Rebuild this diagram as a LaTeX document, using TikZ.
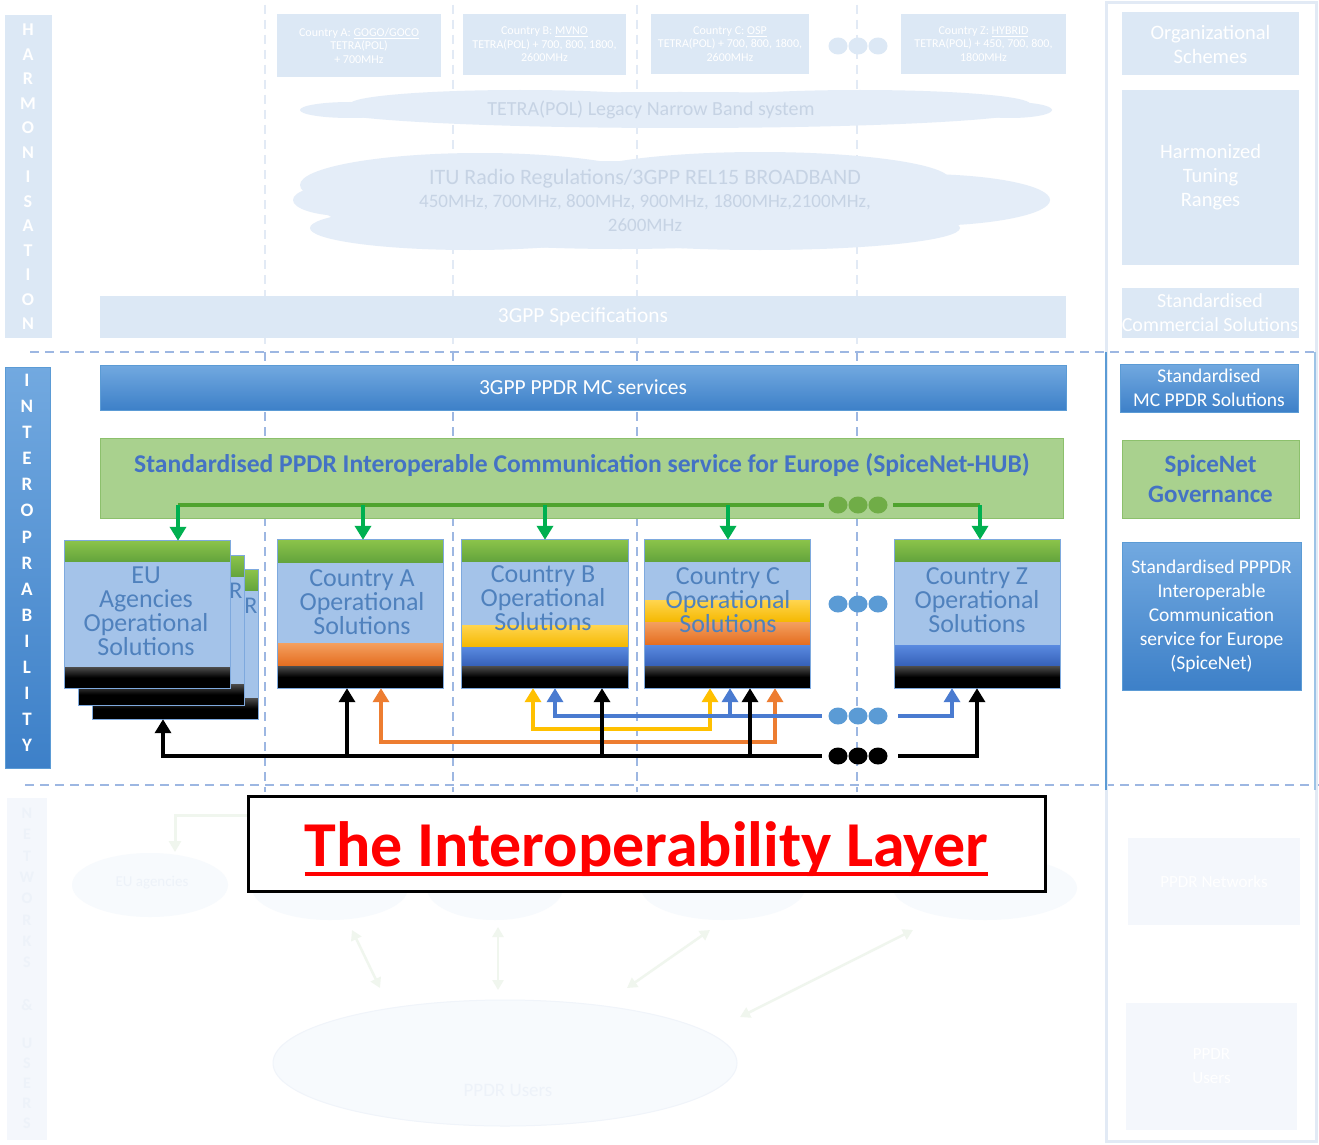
\documentclass[tikz,border=0pt]{standalone}
\usepackage{fontspec}
\setmainfont{Carlito}
\usetikzlibrary{arrows.meta,shapes.geometric}
\definecolor{mcTop}{HTML}{72A9E0}
\definecolor{mcBot}{HTML}{3D80C8}
\definecolor{mcEdge}{HTML}{5B9BD5}
\definecolor{hubFill}{HTML}{A9D18E}
\definecolor{hubEdge}{HTML}{8CC06C}
\definecolor{hubText}{HTML}{4472C4}
\definecolor{hubLine}{HTML}{4FA32E}
\definecolor{dotGreen}{HTML}{70AD47}
\definecolor{arrGreen}{HTML}{00B050}
\definecolor{hdrTop}{HTML}{8BC34A}
\definecolor{hdrBot}{HTML}{62A33C}
\definecolor{bodyBlue}{HTML}{A4C3E9}
\definecolor{bodyEdge}{HTML}{7EA9DE}
\definecolor{stackText}{HTML}{4F81BD}
\definecolor{yelTop}{HTML}{FFD54F}
\definecolor{yelBot}{HTML}{F5B800}
\definecolor{orgTop}{HTML}{F4A060}
\definecolor{orgBot}{HTML}{E46C1E}
\definecolor{bluTop}{HTML}{5A8AE0}
\definecolor{bluBot}{HTML}{3560B8}
\definecolor{lineBlue}{HTML}{4A7BD0}
\definecolor{lineYel}{HTML}{FFC000}
\definecolor{lineOrg}{HTML}{ED7D31}
\definecolor{dotBlue}{HTML}{5B9BD5}
\definecolor{dashC}{HTML}{9DB7E2}
\definecolor{fadeBox}{HTML}{DCE8F5}
\definecolor{fadeCloud}{HTML}{E4EDF8}
\definecolor{fadeCloudText}{HTML}{C6D3E4}
\definecolor{fadeDash}{HTML}{E2EAF5}
\definecolor{faintBox}{HTML}{F4F7FC}
\definecolor{faintText}{HTML}{EDF2F9}
\definecolor{faintGreen}{HTML}{F0F6EE}
\definecolor{faintCloud}{HTML}{F7FAFD}
\definecolor{faintEdge}{HTML}{F0F4FA}
\newcommand{\myband}[5]{\path[#5] (#1,#3) rectangle (#2,#4);}
\begin{document}
\begin{tikzpicture}[x=1pt,y=-1pt,
  fs/.style n args={2}{font=\fontsize{#1}{#2}\selectfont},
  fsb/.style n args={2}{font=\fontsize{#1}{#2}\selectfont\bfseries},
  dashl/.style={draw=dashC, line width=1.5pt, dash pattern=on 9pt off 6pt},
  dashf/.style={draw=fadeDash, line width=1.5pt, dash pattern=on 9pt off 6pt},
  topbox/.style={fill=fadeBox, text=white, align=center, inner sep=0pt, fs={12}{13.5}},
  fadebar/.style={fill=fadeBox, text=white, align=center, inner sep=0pt},
  faintbar/.style={fill=faintBox, text=white, align=center, inner sep=0pt},
  bluebar/.style={top color=mcTop, bottom color=mcBot, draw=mcEdge, line width=1pt, text=white, align=center, inner sep=0pt},
  hubbox/.style={fill=hubFill, draw=hubEdge, line width=1pt, inner sep=0pt},
  vlet/.style={text=white, align=center, inner sep=0pt},
  stackfr/.style={inner sep=0pt},
  stxt/.style={text=stackText, align=center, inner sep=0pt, fs={26}{24}},
  hdr/.style={top color=hdrTop, bottom color=hdrBot},
  body/.style={fill=bodyBlue},
  blk/.style={top color=black!70, bottom color=black, middle color=black},
  yel/.style={top color=yelTop, bottom color=yelBot},
  org/.style={top color=orgTop, bottom color=orgBot},
  blu/.style={top color=bluTop, bottom color=bluBot},
  tip/.style={-{Triangle[width=16pt,length=14pt]}},
  bitip/.style={{Triangle[width=16pt,length=14pt]}-{Triangle[width=16pt,length=14pt]}},
  stip/.style={{Triangle[width=16pt,length=14pt]}-},
  gbus/.style={draw=hubLine, line width=3.5pt},
  garr/.style={draw=arrGreen, line width=3.5pt, -{Triangle[width=16pt,length=14pt]}},
  kline/.style={draw=black, line width=3.5pt},
  oline/.style={draw=lineOrg, line width=3.5pt},
  yline/.style={draw=lineYel, line width=3.5pt},
  bline/.style={draw=lineBlue, line width=3.5pt},
  dot/.style={ellipse, minimum width=19pt, minimum height=17pt, inner sep=0pt}
]
\useasboundingbox (0,0) rectangle (1319,1145);
\fill[white] (0,0) rectangle (1319,1145);

% ---------------- dashed grid ----------------
\foreach \xx in {265,453,637,857} {
  \draw[dashf] (\xx,5) -- (\xx,350);
  \draw[dashl] (\xx,352) -- (\xx,792);
}
\draw[dashl] (30,352) -- (1319,352);
\draw[dashl] (25,785) -- (1319,785);

% right frame
\draw[draw=fadeDash, line width=3pt] (1106,3) rectangle (1316,1141);
\draw[draw=mcEdge, line width=2.5pt] (1106,352) -- (1106,790);
\draw[draw=mcEdge!60, line width=2pt] (1315,352) -- (1315,790);

% ---------------- HARMONISATION layer (faded) ----------------
\node[fadebar, minimum width=47, minimum height=323] (hbar) at (28.5,176.5) {};
\node[vlet, fsb={18}{24.5}] (hlet) at (28,177) {H\\A\\R\\M\\O\\N\\I\\S\\A\\T\\I\\O\\N};

\node[topbox, minimum width=164, minimum height=63] (tA) at (359,45.5) {Country A: \underline{GOGO/GOCO}\\TETRA(POL)\\+ 700MHz};
\node[topbox, minimum width=163, minimum height=61] (tB) at (544.5,44.5) {Country B: \underline{MVNO}\\TETRA(POL) + 700, 800, 1800,\\2600MHz};
\node[topbox, minimum width=158, minimum height=60] (tC) at (730,44) {Country C: \underline{OSP}\\TETRA(POL) + 700, 800, 1800,\\2600MHz};
\node[topbox, minimum width=165, minimum height=60] (tZ) at (983.5,44) {Country Z: \underline{HYBRID}\\TETRA(POL) + 450, 700, 800,\\1800MHz};
\foreach \xx/\nm in {838/ta,858/tb,878/tc} \node[dot, fill=fadeBox] (\nm) at (\xx,46) {};

% TETRA cloud
\fill[fadeCloud] (680,110) ellipse [x radius=350, y radius=18];
\fill[fadeCloud] (520,104) ellipse [x radius=170, y radius=14];
\fill[fadeCloud] (860,104) ellipse [x radius=170, y radius=14];
\fill[fadeCloud] (350,110) ellipse [x radius=50, y radius=8];
\fill[fadeCloud] (1010,110) ellipse [x radius=42, y radius=8];
\node[text=fadeCloudText, fs={20}{22}, inner sep=0pt] (tetra) at (651,110) {TETRA(POL) Legacy Narrow Band system};

% ITU cloud
\fill[fadeCloud] (620,205) ellipse [x radius=300, y radius=44];
\fill[fadeCloud] (480,185) ellipse [x radius=180, y radius=32];
\fill[fadeCloud] (760,180) ellipse [x radius=190, y radius=28];
\fill[fadeCloud] (920,200) ellipse [x radius=130, y radius=26];
\fill[fadeCloud] (345,200) ellipse [x radius=52, y radius=16];
\fill[fadeCloud] (470,228) ellipse [x radius=160, y radius=22];
\fill[fadeCloud] (760,228) ellipse [x radius=200, y radius=22];
\node[text=fadeCloudText, align=center, fs={19}{23.5}, inner sep=0pt] (itu) at (645,200)
  {{\fontsize{22}{23.5}\selectfont ITU Radio Regulations/3GPP REL15 BROADBAND}\\450MHz, 700MHz, 800MHz, 900MHz, 1800MHz,2100MHz,\\2600MHz};

\node[fadebar, minimum width=966, minimum height=42, fs={21.4}{24}] (spec) at (583,317) {3GPP Specifications};

\node[fadebar, minimum width=177, minimum height=63, fs={20.5}{24}] (org) at (1210.5,44) {Organizational\\Schemes};
\node[fadebar, minimum width=177, minimum height=175, fs={20.5}{24}] (tune) at (1210.5,177.5) {Harmonized\\Tuning\\Ranges};
\node[fadebar, minimum width=177, minimum height=50, fs={20}{24}] (comm) at (1210,313) {Standardised\\Commercial Solutions};

% ---------------- INTEROPERABILITY layer ----------------
\node[bluebar, minimum width=45, minimum height=401] (ibar) at (27.5,567.5) {};
\node[vlet, fsb={19}{26.1}] (ilet) at (27,563) {I\\N\\T\\E\\R\\O\\P\\R\\A\\B\\I\\L\\I\\T\\Y};

\node[bluebar, minimum width=966, minimum height=45, fs={21.5}{24}] (mc) at (583,387.5) {3GPP PPDR MC services};
\node[hubbox, minimum width=963, minimum height=80] (hub) at (581.5,478) {};
\node[text=hubText, fsb={25.6}{28}, inner sep=0pt] (hubtxt) at (582,465) {Standardised PPDR Interoperable Communication service for Europe (SpiceNet-HUB)};

% right column
\node[bluebar, minimum width=178, minimum height=48, fs={19.5}{24}] (r1) at (1209,388) {Standardised\\MC PPDR Solutions};
\node[hubbox, minimum width=177, minimum height=78, text=hubText, align=center, fsb={25}{30}] (r2) at (1210.5,479) {SpiceNet\\Governance};
\node[bluebar, minimum width=179, minimum height=148, fs={19.5}{24}] (r3) at (1211.5,616) {Standardised PPPDR\\Interoperable\\Communication\\service for Europe\\(SpiceNet)};

% EU stack (two copies behind)
\node[stackfr, minimum width=165, minimum height=149] (eu3) at (175.5,644.5) {};
\myband{93}{258}{570}{591}{hdr}
\myband{93}{258}{591}{698}{body}
\myband{93}{258}{698}{719}{blk}
\draw[bodyEdge, line width=1pt] (eu3.north west) rectangle (eu3.south east);
\node[text=stackText, fs={24}{24}, inner sep=0pt] (r3l) at (251,606) {R};
\node[stackfr, minimum width=165, minimum height=149] (eu2) at (161.5,630.5) {};
\myband{79}{244}{556}{577}{hdr}
\myband{79}{244}{577}{684}{body}
\myband{79}{244}{684}{705}{blk}
\draw[bodyEdge, line width=1pt] (eu2.north west) rectangle (eu2.south east);
\node[text=stackText, fs={24}{24}, inner sep=0pt] (r2l) at (236,591) {R};
\node[stackfr, minimum width=165, minimum height=147] (eu) at (147.5,614.5) {};
\myband{65}{230}{541}{562}{hdr}
\myband{65}{230}{562}{667}{body}
\myband{65}{230}{667}{688}{blk}
\draw[bodyEdge, line width=1pt] (eu.north west) rectangle (eu.south east);
\node[stxt] (eut) at (146,611) {EU\\Agencies\\Operational\\Solutions};

% Country A
\node[stackfr, minimum width=165, minimum height=148] (sA) at (360.5,614) {};
\myband{278}{443}{540}{563}{hdr}
\myband{278}{443}{563}{643}{body}
\myband{278}{443}{643}{666}{org}
\myband{278}{443}{666}{688}{blk}
\draw[bodyEdge, line width=1pt] (sA.north west) rectangle (sA.south east);
\node[stxt] (tAo) at (362,602) {Country A\\Operational\\Solutions};

% Country B
\node[stackfr, minimum width=166, minimum height=148] (sB) at (545,614) {};
\myband{462}{628}{540}{562}{hdr}
\myband{462}{628}{562}{625}{body}
\myband{462}{628}{625}{647}{yel}
\myband{462}{628}{647}{666}{blu}
\myband{462}{628}{666}{688}{blk}
\draw[bodyEdge, line width=1pt] (sB.north west) rectangle (sB.south east);
\node[stxt] (tBo) at (543,598) {Country B\\Operational\\Solutions};

% Country C
\node[stackfr, minimum width=165, minimum height=148] (sC) at (727.5,614) {};
\myband{645}{810}{540}{562}{hdr}
\myband{645}{810}{562}{600}{body}
\myband{645}{810}{600}{622}{yel}
\myband{645}{810}{622}{645}{org}
\myband{645}{810}{645}{666}{blu}
\myband{645}{810}{666}{688}{blk}
\draw[bodyEdge, line width=1pt] (sC.north west) rectangle (sC.south east);
\node[stxt] (tCo) at (728,600) {Country C\\Operational\\Solutions};

\foreach \xx/\nm in {838/ba,858/bb,878/bc} \node[dot, fill=dotBlue] (\nm) at (\xx,604) {};

% Country Z
\node[stackfr, minimum width=165, minimum height=148] (sZ) at (977.5,614) {};
\myband{895}{1060}{540}{562}{hdr}
\myband{895}{1060}{562}{645}{body}
\myband{895}{1060}{645}{666}{blu}
\myband{895}{1060}{666}{688}{blk}
\draw[bodyEdge, line width=1pt] (sZ.north west) rectangle (sZ.south east);
\node[stxt] (tZo) at (977,600) {Country Z\\Operational\\Solutions};

% green distribution bus
\coordinate (gEU) at (178,505);
\coordinate (gA) at (363,505);
\coordinate (gB) at (545,505);
\coordinate (gC) at (728,505);
\coordinate (gEnd) at (824,505);
\coordinate (gZs) at (893,505);
\coordinate (gZ) at (980,505);
\draw[gbus] (gEU) -- (gEnd);
\draw[gbus] (gZs) -- (gZ);
\foreach \xx/\nm in {838/ga,858/gb,878/gc} \node[dot, fill=dotGreen] (\nm) at (\xx,505) {};
\draw[garr] (gEU) -- (gEU |- eu.north);
\draw[garr] (gA) -- (gA |- sA.north);
\draw[garr] (gB) -- (gB |- sB.north);
\draw[garr] (gC) -- (gC |- sC.north);
\draw[garr] (gZ) -- (gZ |- sZ.north);

% coloured buses
\coordinate (oA) at (381,742);
\coordinate (oC) at (775,742);
\draw[oline, bitip] (oA |- sA.south) -- (oA) -- (oC) -- (oC |- sC.south);
\coordinate (yB) at (533,729);
\coordinate (yC) at (710,729);
\draw[yline, bitip] (yB |- sB.south) -- (yB) -- (yC) -- (yC |- sC.south);
\coordinate (bB) at (555,716);
\coordinate (bC) at (730,716);
\coordinate (bEnd) at (822,716);
\coordinate (bZs) at (898,716);
\coordinate (bZ) at (952,716);
\draw[bline, stip] (bB |- sB.south) -- (bB) -- (bEnd);
\draw[bline, tip] (bC) -- (bC |- sC.south);
\draw[bline, tip] (bZs) -- (bZ) -- (bZ |- sZ.south);
\foreach \xx/\nm in {838/bd,858/be,878/bf} \node[dot, fill=dotBlue] (\nm) at (\xx,716) {};

% black bus
\coordinate (kEU) at (163,756);
\coordinate (kA) at (347,756);
\coordinate (kB) at (602,756);
\coordinate (kC) at (750,756);
\coordinate (kEnd) at (822,756);
\coordinate (kZs) at (898,756);
\coordinate (kZ) at (977,756);
\draw[kline, stip] (kEU |- eu3.south) -- (kEU) -- (kEnd);
\draw[kline, tip] (kA) -- (kA |- sA.south);
\draw[kline, tip] (kB) -- (kB |- sB.south);
\draw[kline, tip] (kC) -- (kC |- sC.south);
\draw[kline, tip] (kZs) -- (kZ) -- (kZ |- sZ.south);
\foreach \xx/\nm in {838/ka,858/kb,878/kc} \node[dot, fill=black] (\nm) at (\xx,756) {};

% ---------------- NETWORKS & USERS layer (very faint) ----------------
\node[faintbar, minimum width=40, minimum height=342] (nbar) at (27,969) {};
\node[vlet, text=faintText, fsb={16}{21.3}] (nlet1) at (27,888) {N\\E\\T\\W\\O\\R\\K\\S};
\node[vlet, text=faintText, fsb={16}{20}] (nlet2) at (27,1005) {\&};
\node[vlet, text=faintText, fsb={16}{20}] (nlet3) at (27,1083) {U\\S\\E\\R\\S};

\fill[faintCloud] (150,885) ellipse [x radius=78, y radius=32];
\fill[faintCloud] (330,888) ellipse [x radius=78, y radius=32];
\fill[faintCloud] (495,888) ellipse [x radius=68, y radius=32];
\fill[faintCloud] (723,888) ellipse [x radius=82, y radius=32];
\fill[faintCloud] (985,888) ellipse [x radius=92, y radius=32];
\node[text=faintText, fs={15}{18}, inner sep=0pt] (euag) at (152,883) {EU agencies};
\coordinate (fgA) at (175,815);
\coordinate (fgB) at (260,815);
\draw[draw=faintGreen, line width=3pt, {Triangle[width=12pt,length=11pt]}-] (175,852) -- (fgA) -- (fgB);
\draw[draw=faintGreen, line width=2.5pt, {Triangle[width=11pt,length=10pt]}-{Triangle[width=11pt,length=10pt]}] (352,930) -- (380,988);
\draw[draw=faintGreen, line width=2.5pt, {Triangle[width=11pt,length=10pt]}-{Triangle[width=11pt,length=10pt]}] (498,927) -- (498,990);
\draw[draw=faintGreen, line width=2.5pt, {Triangle[width=11pt,length=10pt]}-{Triangle[width=11pt,length=10pt]}] (710,930) -- (627,988);
\draw[draw=faintGreen, line width=2.5pt, {Triangle[width=11pt,length=10pt]}-{Triangle[width=11pt,length=10pt]}] (913,930) -- (740,1017);
\draw[fill=faintCloud, draw=faintEdge, line width=1pt] (505,1063) ellipse [x radius=232, y radius=63];
\node[text=faintText, fs={19}{22}, inner sep=0pt] (users) at (508,1090) {PPDR Users};

\node[faintbar, minimum width=172, minimum height=87, fs={17}{22}] (pnet) at (1214,881.5) {PPDR Networks};
\node[faintbar, minimum width=171, minimum height=127, fs={17}{24}] (pusr) at (1211.5,1066.5) {PPDR\\Users};

% ---------------- title ----------------
\node[draw=black, line width=3pt, fill=white, minimum width=797, minimum height=95, inner sep=0pt] (title) at (646.5,843.5) {};
\node[text=red, fsb={64}{70}, inner sep=0pt, anchor=base] (ttxt) at (646.5,866) {The Interoperability Layer};
\draw[red, line width=4.5pt] ([yshift=-8pt]ttxt.base west) -- ([yshift=-8pt]ttxt.base east);
\end{tikzpicture}
\end{document}
